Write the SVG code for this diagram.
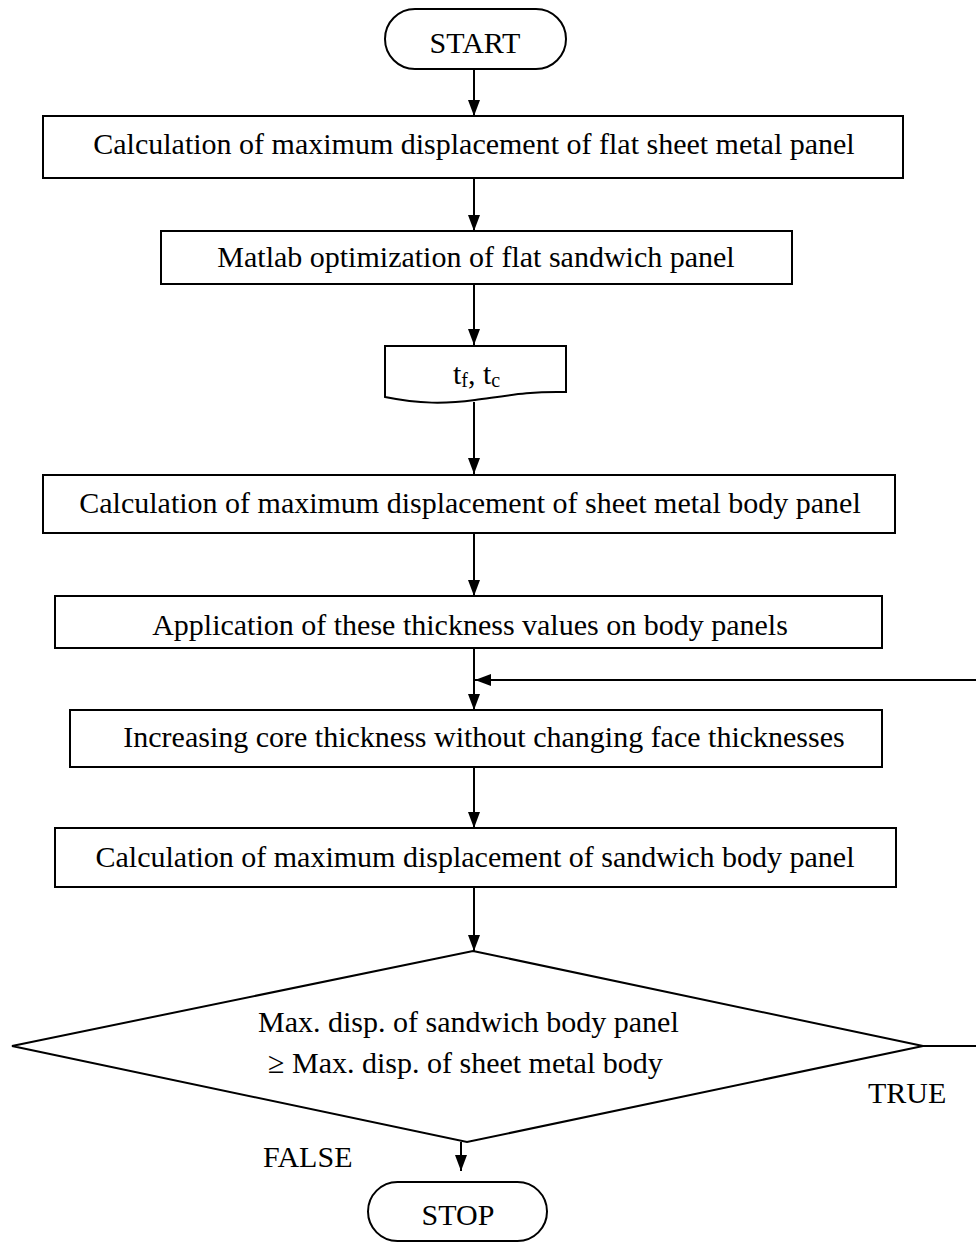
<svg xmlns="http://www.w3.org/2000/svg" width="976" height="1243" viewBox="0 0 976 1243">
<style>
  .shape { fill: #fff; stroke: #000; stroke-width: 2; }
  .lbl { font-family: "Liberation Serif", "Times New Roman", serif; font-size: 30px; fill: #000; }
  .c { text-anchor: middle; }
  .conn { stroke: #000; stroke-width: 2; fill: none; }
</style>
<defs>
  <marker id="arr" viewBox="0 0 16 12" refX="16" refY="6" markerWidth="16" markerHeight="12" markerUnits="userSpaceOnUse" orient="auto">
    <path d="M0,0 L16,6 L0,12 Z" fill="#000"/>
  </marker>
</defs>
<rect x="0" y="0" width="976" height="1243" fill="#fff"/>

<g id="connectors">
  <line class="conn" x1="474" y1="69" x2="474" y2="116" marker-end="url(#arr)"/>
  <line class="conn" x1="474" y1="178" x2="474" y2="231" marker-end="url(#arr)"/>
  <line class="conn" x1="474" y1="284" x2="474" y2="345" marker-end="url(#arr)"/>
  <line class="conn" x1="474" y1="402" x2="474" y2="474" marker-end="url(#arr)"/>
  <line class="conn" x1="474" y1="533" x2="474" y2="596" marker-end="url(#arr)"/>
  <line class="conn" x1="474" y1="648" x2="474" y2="710" marker-end="url(#arr)"/>
  <line class="conn" x1="976" y1="680" x2="475" y2="680" marker-end="url(#arr)"/>
  <line class="conn" x1="474" y1="767" x2="474" y2="828" marker-end="url(#arr)"/>
  <line class="conn" x1="474" y1="887" x2="474" y2="951" marker-end="url(#arr)"/>
  <line class="conn" x1="461" y1="1142" x2="461" y2="1171" marker-end="url(#arr)"/>
  <line class="conn" x1="923" y1="1046" x2="976" y2="1046"/>
</g>

<g id="start">
  <rect class="shape" x="385" y="9" width="181" height="60" rx="30" ry="30"/>
  <text class="lbl c" x="475" y="53">START</text>
</g>

<g id="box1">
  <rect class="shape" x="43" y="116" width="860" height="62"/>
  <text class="lbl c" x="474" y="154">Calculation of maximum displacement of flat sheet metal panel</text>
</g>

<g id="box2">
  <rect class="shape" x="161" y="231" width="631" height="53"/>
  <text class="lbl c" x="476" y="267">Matlab optimization of flat sandwich panel</text>
</g>

<g id="doc">
  <path class="shape" d="M385,346 L566,346 L566,392 C530,391 505,396 475,400 C445,404 420,404 385,397 Z"/>
  <text class="lbl" x="453" y="384">t<tspan font-size="20" dy="3">f</tspan><tspan dy="-3">, t</tspan><tspan font-size="20" dy="3">c</tspan></text>
</g>

<g id="box3">
  <rect class="shape" x="43" y="475" width="852" height="58"/>
  <text class="lbl c" x="470" y="513">Calculation of maximum displacement of sheet metal body panel</text>
</g>

<g id="box4">
  <rect class="shape" x="55" y="596" width="827" height="52"/>
  <text class="lbl c" x="470" y="635">Application of these thickness values on body panels</text>
</g>

<g id="box5">
  <rect class="shape" x="70" y="710" width="812" height="57"/>
  <text class="lbl c" x="484" y="747">Increasing core thickness without changing face thicknesses</text>
</g>

<g id="box6">
  <rect class="shape" x="55" y="828" width="841" height="59"/>
  <text class="lbl c" x="475" y="867">Calculation of maximum displacement of sandwich body panel</text>
</g>

<g id="decision">
  <polygon class="shape" points="473,951 923,1046 467,1142 12,1046"/>
  <text class="lbl" x="258" y="1032">Max. disp. of sandwich body panel</text>
  <text class="lbl" x="268" y="1073">≥ Max. disp. of sheet metal body</text>
</g>

<g id="labels">
  <text class="lbl" x="868" y="1103">TRUE</text>
  <text class="lbl" x="263" y="1167">FALSE</text>
</g>

<g id="stop">
  <rect class="shape" x="368" y="1182" width="179" height="59" rx="29.5" ry="29.5"/>
  <text class="lbl c" x="458" y="1225">STOP</text>
</g>
</svg>
